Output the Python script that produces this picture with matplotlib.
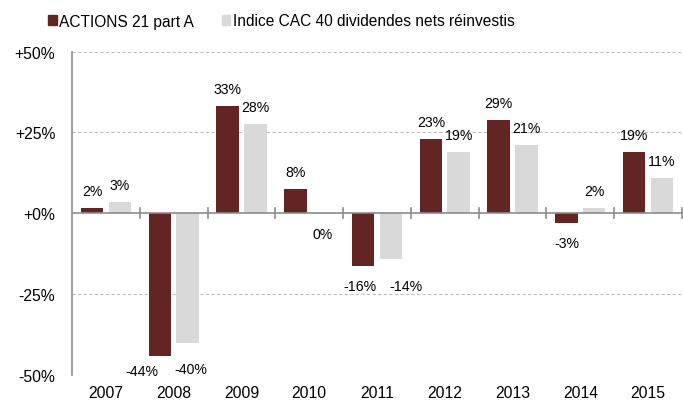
import numpy as np
import matplotlib
matplotlib.use("Agg")
import matplotlib.pyplot as plt
import matplotlib.transforms as mtransforms
from matplotlib.patches import Patch

plt.rcParams['font.family'] = ['Liberation Sans', 'DejaVu Sans']

YEARS = ["2007", "2008", "2009", "2010", "2011", "2012", "2013", "2014", "2015"]
ACTIONS = [1.7, -44.2, 33.2, 7.4, -16.3, 23.1, 28.7, -3.1, 18.9]
CAC = [3.4, -40.3, 27.5, -0.3, -14.2, 19.0, 21.1, 1.6, 10.9]
ACTIONS_LBL = ["2%", "-44%", "33%", "8%", "-16%", "23%", "29%", "-3%", "19%"]
CAC_LBL = ["3%", "-40%", "28%", "0%", "-14%", "19%", "21%", "2%", "11%"]
SERIES = ["ACTIONS 21 part A", "Indice CAC 40 dividendes nets réinvestis"]

RED = "#632523"
GREY = "#d9d9d9"
AXC = "#8c8c8c"

# manual nudges (x px, y px) for a few labels that would collide
NUDGE_A = {1: (-18, 5), 4: (-3, 0)}
NUDGE_C = {1: (3, -6), 4: (15, -7)}

fig = plt.figure(figsize=(6.83, 4.06), dpi=100)
ax = fig.add_axes([72 / 683, 1 - 375.7 / 406, 610 / 683, 323 / 406])

x = np.arange(len(YEARS))
w = 0.33
off = 0.205
ax.bar(x - off, ACTIONS, w, color=RED, zorder=3)
ax.bar(x + off, CAC, w, color=GREY, zorder=3)

ax.set_xlim(-0.5, len(YEARS) - 0.5)
ax.set_ylim(-50, 50)

for yv in [-50, -25, 25, 50]:
    ax.axhline(yv, color="#bfbfbf", lw=0.8, ls=(0, (3, 2)), zorder=1)
ax.axhline(0, color=AXC, lw=1.2, zorder=4)

# small tick marks on the zero line at category boundaries
for b in np.arange(0.5, len(YEARS), 1.0):
    ax.plot([b, b], [-1.6, 1.6], color=AXC, lw=1.2, zorder=4, clip_on=False)

for s in ["top", "right", "bottom"]:
    ax.spines[s].set_visible(False)
ax.spines["left"].set_color(AXC)
ax.spines["left"].set_linewidth(1.2)

ax.set_yticks([50, 25, 0, -25, -50])
ax.set_yticklabels(["+50%", "+25%", "+0%", "-25%", "-50%"], fontsize=11.3)
ax.tick_params(axis="y", length=0, pad=12)
ax.set_xticks([])

trans = mtransforms.blended_transform_factory(ax.transData, ax.transAxes)
for i, yr in enumerate(YEARS):
    ax.text(i, -0.055, yr, transform=trans, ha="center", va="center", fontsize=11.3)


def label(xpos, val, txt, nudge):
    dx, dy = nudge
    if val >= 0:
        oy = 17 + dy
    else:
        oy = -20 + dy
    ax.annotate(txt, (xpos, val), xytext=(dx * 0.72, oy * 0.72),
                textcoords="offset points", ha="center", va="center",
                fontsize=10.2, zorder=5)


for i in range(len(YEARS)):
    label(i - off, ACTIONS[i], ACTIONS_LBL[i], NUDGE_A.get(i, (0, 0)))
    label(i + off, CAC[i], CAC_LBL[i], NUDGE_C.get(i, (0, 0)))

handles = [Patch(color=RED), Patch(color=GREY)]
fig.legend(handles, SERIES, loc="center left", bbox_to_anchor=(48 / 683, 1 - 22 / 406),
           ncol=2, frameon=False, fontsize=11.2, handlelength=0.55, handleheight=0.55,
           handletextpad=0.15, columnspacing=1.8, borderpad=0, borderaxespad=0)

fig.savefig("out.png", dpi=100)
